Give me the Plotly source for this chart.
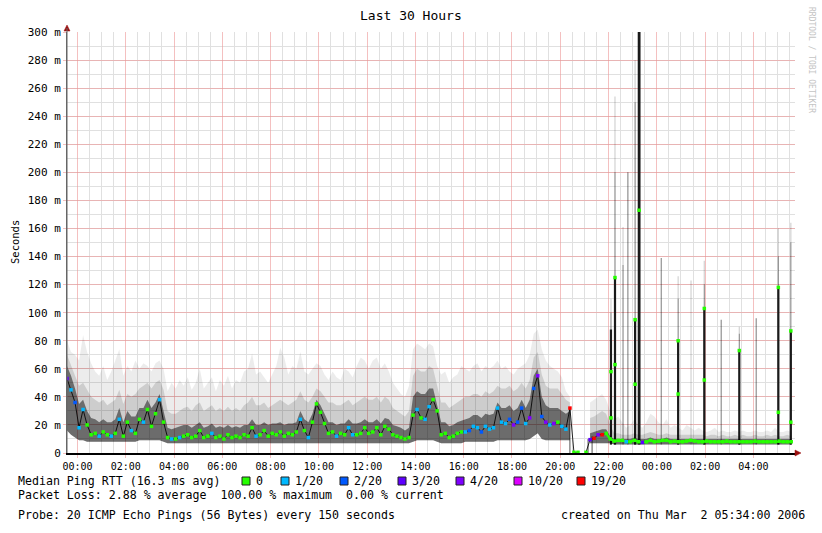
import math
import pandas as pd
import plotly.graph_objects as go

nan = float("nan")

# ---------------- data (10 minute samples, 23:34 -> 05:34) ----------------
START = "2006-02-28 23:34"
END_VIEW = "2006-03-02 05:43:24"
times = pd.date_range(START, periods=181, freq="10min")

median = [
    53, 45, 36, 18, 31, 20, 13, 14, 12, 15,
    13, 12, 14, 24, 12, 22, 16, 14, 24, 22,
    31, 19, 28, 38, 22, 11, 10, 10, 11, 12,
    13, 11, 12, 16, 11, 12, 14, 11, 12, 10,
    13, 11, 12, 11, 13, 12, 18, 12, 13, 16,
    12, 14, 13, 15, 12, 14, 13, 15, 24, 16,
    11, 22, 35, 29, 21, 14, 15, 12, 14, 13,
    18, 13, 13, 14, 18, 14, 15, 18, 13, 19,
    17, 13, 12, 11, 10, 11, 27, 31, 25, 24,
    33, 38, 30, 13, 14, 11, 12, 14, 15, 15,
    16, 19, 18, 15, 19, 17, 18, 32, 22, 21,
    24, 20, 22, 32, 21, 25, 46, 55, 26, 22,
    20, 21, 22, 19, 17, 32, 0.5, 0.5, nan, 0.5,
    9.5, 10.5, 13, 13, 14, 10, 8.5, 9, 9, 8,
    8, 9, 8, 7.5, 8, 9, 8, 8.5, 9, 9,
    8, 8.5, 8, 8, 8.5, 9, 8.5, 8, 8, 8.5,
    8, 8, 8, 8, 8.5, 8, 8, 8, 8, 8,
    8, 8.5, 8, 8, 8, 8, 8, 8.5, 8, 8,
    8,
]

# packet loss class per sample (index into LOSS_LABELS)
loss = [
    3, 1, 2, 1, 1, 0, 0, 0, 1, 0,
    0, 1, 0, 1, 0, 0, 1, 0, 0, 1,
    0, 0, 0, 1, 0, 0, 1, 0, 1, 0,
    0, 0, 0, 0, 0, 0, 1, 0, 0, 0,
    0, 0, 0, 0, 0, 0, 0, 1, 0, 0,
    0, 0, 0, 0, 0, 0, 0, 0, 1, 0,
    1, 0, 0, 0, 0, 0, 0, 1, 0, 0,
    1, 1, 0, 0, 0, 0, 0, 0, 0, 0,
    0, 0, 0, 0, 0, 0, 0, 1, 0, 1,
    1, 0, 0, 0, 0, 0, 0, 0, 0, 1,
    2, 1, 1, 2, 1, 1, 1, 1, 1, 1,
    2, 4, 2, 2, 1, 4, 2, 4, 2, 4,
    1, 4, 0, 1, 1, 6, 0, 0, 0, 0,
    3, 6, 4, 6, 0, 0, 0, 0, 0, 1,
    0, 0, 0, 3, 0, 0, 0, 0, 0, 0,
    0, 0, 0, 0, 0, 0, 0, 0, 0, 0,
    0, 0, 0, 0, 0, 0, 0, 0, 0, 0,
    0, 0, 0, 0, 0, 0, 0, 0, 0, 0,
    0,
]

smoke_lo = [
    16, 13, 11, 9, 9, 8, 8, 8, 8, 8,
    8, 8, 8, 8, 8, 8, 8, 8, 9, 9,
    9, 9, 9, 9, 8, 7, 7, 7, 7, 7,
    7, 7, 7, 7, 7, 7, 7, 7, 7, 7,
    7, 7, 7, 7, 7, 7, 7, 7, 7, 7,
    7, 7, 7, 7, 7, 7, 7, 7, 7, 7,
    7, 7, 7, 7, 7, 7, 7, 7, 7, 7,
    7, 7, 7, 7, 7, 7, 7, 7, 7, 7,
    7, 7, 7, 7, 7, 7, 8, 9, 9, 9,
    9, 9, 8, 7, 7, 7, 7, 7, 7, 8,
    8, 8, 8, 8, 8, 8, 8, 9, 9, 9,
    9, 9, 9, 9, 9, 10, 12, 14, 10, 9,
    9, 9, 9, 9, 9, 9, nan, nan, nan, nan,
    7, 7, 7, 7, 7, 7, 6, 6, 6, 6,
    6, 6, 6, 6, 6, 6, 6, 6, 6, 6,
    6, 6, 6, 6, 6, 6, 6, 6, 6, 6,
    6, 6, 6, 6, 6, 6, 6, 6, 6, 6,
    6, 6, 6, 6, 6, 6, 6, 6, 6, 6,
    6,
]

smoke_dark = [
    62, 55, 46, 35, 38, 30, 25, 24, 22, 24,
    22, 22, 24, 32, 22, 30, 26, 26, 32, 32,
    38, 32, 36, 42, 30, 18, 17, 18, 19, 20,
    20, 18, 20, 22, 18, 19, 21, 18, 19, 18,
    20, 18, 19, 18, 20, 20, 24, 20, 20, 22,
    20, 21, 21, 22, 20, 21, 21, 22, 30, 24,
    22, 28, 38, 34, 28, 22, 22, 20, 21, 21,
    24, 21, 21, 22, 24, 22, 22, 24, 21, 25,
    24, 20, 19, 18, 16, 18, 40, 44, 42, 42,
    46, 46, 34, 22, 22, 19, 20, 22, 23, 24,
    25, 27, 27, 25, 28, 27, 28, 36, 32, 32,
    34, 30, 32, 38, 32, 38, 55, 60, 40, 34,
    32, 32, 32, 30, 28, 30, nan, nan, nan, nan,
    14, 15, 16, 17, 17, 12, 10, 10, 10, 10,
    10, 11, 10, 10, 10, 11, 10, 10, 10, 11,
    10, 10, 10, 10, 10, 10, 10, 10, 10, 10,
    10, 10, 10, 10, 10, 10, 10, 10, 10, 10,
    10, 10, 10, 10, 10, 10, 10, 10, 10, 10,
    10,
]

smoke_mid = [
    70, 62, 55, 48, 50, 45, 40, 38, 36, 38,
    34, 36, 38, 45, 35, 42, 40, 42, 46, 48,
    50, 46, 50, 52, 45, 30, 28, 28, 30, 32,
    33, 30, 34, 36, 30, 32, 34, 30, 32, 30,
    33, 30, 32, 30, 34, 36, 40, 34, 34, 36,
    32, 34, 36, 38, 36, 34, 36, 38, 44, 38,
    36, 40, 46, 44, 40, 36, 36, 34, 34, 36,
    38, 34, 36, 38, 40, 38, 38, 40, 36, 40,
    38, 32, 30, 28, 26, 30, 55, 60, 58, 58,
    62, 60, 48, 36, 36, 32, 34, 36, 38, 40,
    40, 42, 42, 40, 44, 42, 44, 48, 46, 46,
    48, 44, 46, 50, 46, 52, 68, 72, 56, 48,
    46, 46, 46, 42, 38, 36, nan, nan, nan, nan,
    25, 26, 28, 30, 28, 20, 14, 14, 13, 13,
    13, 14, 13, 13, 14, 15, 14, 13, 13, 14,
    13, 13, 13, 13, 13, 13, 13, 13, 13, 12,
    13, 13, 12, 13, 12, 12, 13, 12, 13, 12,
    12, 13, 12, 12, 13, 12, 13, 12, 12, 13,
    12,
]

smoke_light = [
    80, 72, 70, 66, 84, 72, 64, 58, 55, 62,
    52, 58, 66, 74, 55, 62, 58, 66, 60, 64,
    62, 58, 64, 66, 60, 44, 50, 46, 52, 48,
    54, 45, 50, 60, 46, 50, 54, 44, 52, 48,
    55, 46, 52, 50, 58, 60, 71, 56, 58, 54,
    50, 56, 62, 75, 68, 56, 62, 60, 72, 58,
    56, 60, 64, 62, 56, 52, 58, 54, 52, 60,
    58, 54, 62, 68, 66, 60, 66, 68, 60, 64,
    58, 50, 46, 42, 40, 48, 74, 78, 76, 74,
    78, 76, 62, 56, 58, 50, 54, 56, 62, 60,
    58, 62, 64, 58, 62, 60, 62, 66, 60, 62,
    58, 56, 60, 62, 64, 70, 85, 88, 74, 66,
    62, 60, 58, 54, 44, 40, nan, nan, nan, nan,
    36, 38, 40, 42, 38, 30, 24, 26, 22, 18,
    20, 24, 20, 18, 22, 28, 26, 22, 20, 24,
    18, 20, 18, 16, 20, 18, 16, 18, 16, 15,
    16, 18, 15, 16, 15, 15, 16, 15, 16, 15,
    15, 16, 15, 15, 16, 15, 18, 15, 15, 16,
    15,
]

# isolated spikes (late part of the graph)
spike_times = [
    "2006-03-01 20:24", "2006-03-01 21:09", "2006-03-01 21:19",
    "2006-03-01 22:06", "2006-03-01 22:16", "2006-03-01 22:36",
    "2006-03-01 22:48", "2006-03-01 23:06", "2006-03-01 23:16",
    "2006-03-02 00:11", "2006-03-02 00:53", "2006-03-02 01:25",
    "2006-03-02 01:58", "2006-03-02 02:40", "2006-03-02 03:25",
    "2006-03-02 04:07", "2006-03-02 05:02", "2006-03-02 05:33",
]
spike_base = [0, 0, 0, 6, 6, 6, 6, 6, 6, 6, 6, 6, 6, 6, 6, 6, 6, 6]
spike_black = [32, 10, 12, 88, 125, nan, nan, 95, 300, nan, 80, nan, 103, nan, 73, nan, 118, 87]
spike_smoke = [nan, nan, nan, 100, 200, 134, 200, 250, 300, 139, 110, nan, 120, 95, 85, 96, 140, 150]
spike_faint = [nan, nan, nan, 110, 254, 161, 200, 280, 300, 139, 126, 123, 137, 95, 90, 96, 160, 164]
spike_median = [nan, nan, nan, 58, 125, nan, nan, 95, 173, nan, 80, nan, 103, nan, 73, nan, 118, 87]
spike_median2 = [nan, nan, nan, 25, 63, nan, nan, 49, nan, nan, 42, nan, 52, nan, nan, nan, 29, 22]

LOSS_LABELS = ["0", "1/20", "2/20", "3/20", "4/20", "10/20", "19/20"]
LOSS_COLORS = ["#26ff00", "#00b8ff", "#0059ff", "#5e00ff", "#7e00ff", "#dd00ff", "#ff0000"]

Y_TICKS = list(range(0, 301, 20))
Y_TICKTEXT = ["0"] + [f"{v} m" for v in Y_TICKS[1:]]

TITLE = "Last 30 Hours"
LEGEND_TITLE = "Median Ping RTT (16.3 ms avg)"
LOSS_LINE = "Packet Loss: 2.88 % average  100.00 % maximum  0.00 % current"
PROBE_LINE = "Probe: 20 ICMP Echo Pings (56 Bytes) every 150 seconds"
CREATED_LINE = "created on Thu Mar  2 05:34:00 2006"
WATERMARK = "RRDTOOL / TOBI OETIKER"

# ---------------- layout geometry ----------------
W, H = 822, 533
L, R, T, B = 67, 27, 32, 80
PW, PH = W - L - R, H - T - B
MONO = "DejaVu Sans Mono"


def px(x, y):
    return (x - L) / PW, (H - B - y) / PH


def isnan(v):
    return v is None or (isinstance(v, float) and math.isnan(v))


def runs(vals):
    segs, cur = [], []
    for k, v in enumerate(vals):
        if isnan(v):
            if cur:
                segs.append(cur)
                cur = []
        else:
            cur.append(k)
    if cur:
        segs.append(cur)
    return segs


fig = go.Figure()

# smoke
for seg in runs(smoke_lo):
    xs = [times[k] for k in seg]
    lo = [smoke_lo[k] for k in seg]
    for top, col in ((smoke_light, "rgba(0,0,0,0.075)"),
                     (smoke_mid, "rgba(0,0,0,0.13)"),
                     (smoke_dark, "rgba(0,0,0,0.47)")):
        fig.add_trace(go.Scatter(x=xs, y=lo, mode="lines", line=dict(width=0),
                                 hoverinfo="skip", showlegend=False))
        fig.add_trace(go.Scatter(x=xs, y=[top[k] for k in seg], mode="lines",
                                 line=dict(width=0), fill="tonexty", fillcolor=col,
                                 hoverinfo="skip", showlegend=False))


def spike_bars(tops, color, width_ms):
    xs, ys, bs = [], [], []
    for t, top, b in zip(spike_times, tops, spike_base):
        if not isnan(top):
            xs.append(t)
            ys.append(top - b)
            bs.append(b)
    fig.add_trace(go.Bar(x=xs, y=ys, base=bs, width=width_ms, marker_color=color,
                         marker_line_width=0, hoverinfo="skip", showlegend=False))


spike_bars(spike_faint, "rgba(0,0,0,0.16)", 200000)
spike_bars(spike_smoke, "rgba(0,0,0,0.35)", 150000)

# black spike cores (thin for the drop-out lines, thicker otherwise)
bx, by, bb, bw = [], [], [], []
for t, top, b in zip(spike_times, spike_black, spike_base):
    if not isnan(top):
        bx.append(t)
        by.append(top - b)
        bb.append(b)
        bw.append(110000 if b == 0 else (420000 if top >= 300 else 330000))
fig.add_trace(go.Bar(x=bx, y=by, base=bb, width=bw, marker_color="#1a1a1a",
                     marker_line_width=0, hoverinfo="skip", showlegend=False))

# median connecting line (dark)
fig.add_trace(go.Scatter(x=times, y=median, mode="lines",
                         line=dict(color="rgba(0,0,0,0.85)", width=1),
                         hoverinfo="skip", showlegend=False))

# late flat green median
fig.add_trace(go.Scatter(x=times[134:], y=median[134:], mode="lines",
                         line=dict(color=LOSS_COLORS[0], width=2.2),
                         hoverinfo="skip", showlegend=False))

# median dots coloured by loss
fig.add_trace(go.Scatter(x=times, y=median, mode="markers",
                         marker=dict(symbol="square", size=3.5,
                                     color=[LOSS_COLORS[l] for l in loss],
                                     line=dict(width=0)),
                         hoverinfo="skip", showlegend=False))

# spike medians
sx, sy = [], []
for t, a, b in zip(spike_times, spike_median, spike_median2):
    for v in (a, b):
        if not isnan(v):
            sx.append(t)
            sy.append(v)
fig.add_trace(go.Scatter(x=sx, y=sy, mode="markers",
                         marker=dict(symbol="square", size=3.5, color=LOSS_COLORS[0],
                                     line=dict(width=0)),
                         hoverinfo="skip", showlegend=False))

RED_GRID = "rgba(236,150,150,0.6)"
GRAY_GRID = "#e0e0e0"

fig.update_layout(
    width=W, height=H,
    margin=dict(l=L, r=R, t=T, b=B, pad=0),
    paper_bgcolor="white", plot_bgcolor="white",
    font=dict(family=MONO, color="black"),
    barmode="overlay",
    showlegend=False,
    xaxis=dict(
        type="date", range=[START, END_VIEW],
        tickformat="%H:%M", dtick=7200000, tick0="2006-03-01 00:00",
        showgrid=True, gridcolor=RED_GRID, gridwidth=1,
        minor=dict(dtick=1800000, tick0="2006-03-01 00:00", showgrid=True,
                   gridcolor=GRAY_GRID, gridwidth=1),
        showline=True, linecolor="black", linewidth=1.5,
        ticks="outside", ticklen=3, tickcolor=RED_GRID,
        tickfont=dict(family=MONO, size=10, color="black"),
        zeroline=False, fixedrange=True,
    ),
    yaxis=dict(
        range=[0, 300], tickvals=Y_TICKS, ticktext=Y_TICKTEXT,
        showgrid=True, gridcolor=RED_GRID, gridwidth=1,
        minor=dict(dtick=10, showgrid=True, gridcolor=GRAY_GRID, gridwidth=1),
        showline=True, linecolor="#666666", linewidth=1,
        ticks="outside", ticklen=3, tickcolor=RED_GRID,
        tickfont=dict(family=MONO, size=11, color="black"),
        zeroline=False, fixedrange=True,
    ),
)

ann = []


def text(x, y, s, size=11.6, xanchor="left", color="black", angle=0):
    xp, yp = px(x, y)
    ann.append(dict(x=xp, y=yp, xref="paper", yref="paper", text=s.replace("  ", "\u00a0\u00a0"),
                    showarrow=False, xanchor=xanchor, yanchor="middle", textangle=angle,
                    font=dict(family=MONO, size=size, color=color)))


text(411, 15, TITLE, size=13, xanchor="center")
text(15, 242, "Seconds", size=10.5, xanchor="center", angle=-90)
text(812, 60, WATERMARK, size=8, xanchor="center", color="#c4c4c4", angle=90)
text(16, 481, LEGEND_TITLE)
text(16, 495, LOSS_LINE)
text(16, 515, PROBE_LINE)
text(807, 515, CREATED_LINE, xanchor="right")

shapes = []
box_x = [242, 281, 340, 398, 456, 514, 577]
for bx0, lab, col in zip(box_x, LOSS_LABELS, LOSS_COLORS):
    x0, y0 = px(bx0, 485)
    x1, y1 = px(bx0 + 8, 477)
    shapes.append(dict(type="rect", xref="paper", yref="paper", x0=x0, y0=y0, x1=x1, y1=y1,
                       fillcolor=col, line=dict(color="#202020", width=1)))
    text(bx0 + 12, 481, lab)

# axis arrows
ax, ay = px(67, 25)
bx1, by1 = px(64, 31)
cx, cy = px(70, 31)
shapes.append(dict(type="path", xref="paper", yref="paper",
                   path=f"M {ax},{ay} L {bx1},{by1} L {cx},{cy} Z",
                   fillcolor="#9a1010", line=dict(color="#9a1010", width=0.5)))
ax, ay = px(801, 453)
bx1, by1 = px(795, 450)
cx, cy = px(795, 456)
shapes.append(dict(type="path", xref="paper", yref="paper",
                   path=f"M {ax},{ay} L {bx1},{by1} L {cx},{cy} Z",
                   fillcolor="#9a1010", line=dict(color="#9a1010", width=0.5)))
x0, y0 = px(67, 453)
x1, y1 = px(67, 28)
shapes.append(dict(type="line", xref="paper", yref="paper", x0=x0, y0=y0, x1=x1, y1=y1,
                   line=dict(color="#666666", width=1)))

fig.update_layout(annotations=ann, shapes=shapes)

fig.write_html(
    "out.html",
    config={"displayModeBar": False, "staticPlot": True},
    post_script="document.body.style.margin='0px';document.body.style.overflow='hidden';",
)
